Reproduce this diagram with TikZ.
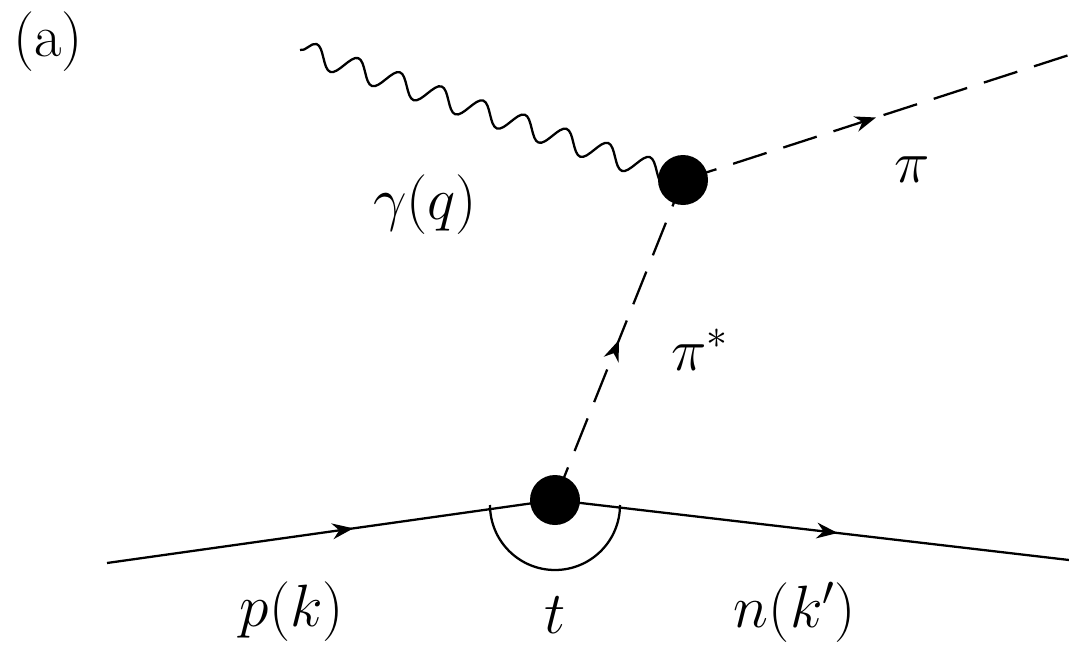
\RequirePackage{fix-cm}
\documentclass[tikz,border=0pt]{standalone}
\usepackage{amsmath}
\usetikzlibrary{arrows.meta,decorations.markings,decorations.pathmorphing}
\tikzset{
  ->-/.style={decoration={
    markings,
    mark=at position #1 with {\arrow{Stealth[length=12pt,width=9pt]}}},
    postaction={decorate}}
}
\begin{document}
\begin{tikzpicture}[x=0.02cm,y=-0.02cm,line width=1.3pt,
  every node/.style={font=\fontsize{34pt}{40pt}\selectfont}]
            \useasboundingbox (0,0) rectangle (1069,659);

            % Vertices
            \coordinate (vlow) at (555,500);
            \coordinate (vup) at (683,180);
            \coordinate (pin) at (107,563);
            \coordinate (nout) at (1069,560);
            \coordinate (gin) at (300,50);
            \coordinate (piout) at (1069,55);

            % Nucleon line
            \draw[->-=0.55] (pin) -- (vlow);
            \draw[->-=0.55] (vlow) -- (nout);

            % Angle
            \draw (490,505) arc (180:0:65);

            % Exchanged pion
            \draw[dashed, dash pattern=on 20pt off 10pt, ->-=0.5] (vlow) -- (vup);

            % Outgoing pion
            \draw[dashed, dash pattern=on 20pt off 10pt, ->-=0.5] (vup) -- (piout);

            % Photon
            \draw[decorate, decoration={snake, segment length=0.88cm, amplitude=0.22cm}] (gin) -- (vup);

            % Blobs
            \fill (vlow) circle (25);
            \fill (vup) circle (25);

            % Labels
            \node (lbla) at (48,42) {(a)};
            \node (lblg) at (425,205) {$\gamma(q)$};
            \node (lblpi) at (912,170) {$\pi$};
            \node (lblpis) at (700,350) {$\pi^*$};
            \node (lblp) at (292,612) {$p(k)$};
            \node (lblt) at (555,615) {$t$};
            \node (lbln) at (795,612) {$n(k')$};
        \end{tikzpicture}
\end{document}
